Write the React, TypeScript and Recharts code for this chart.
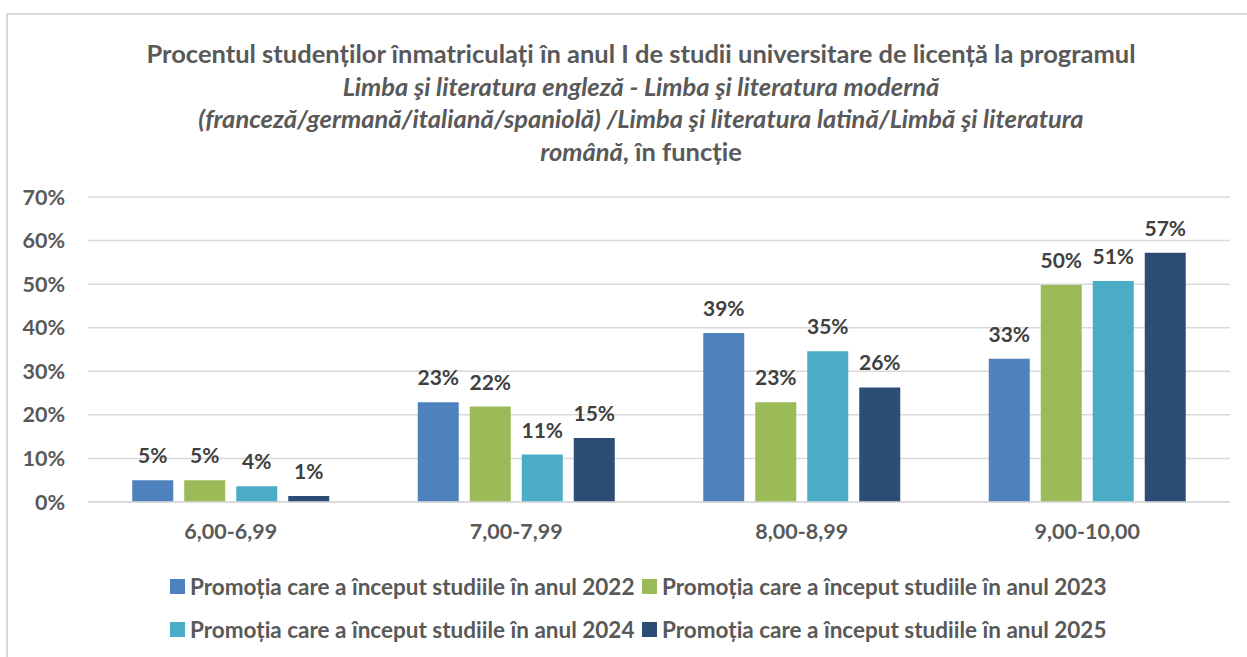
import React from 'react';
import { BarChart, Bar, XAxis, YAxis, CartesianGrid, LabelList, Legend } from 'recharts';

const categories = ['6,00-6,99', '7,00-7,99', '8,00-8,99', '9,00-10,00'];
const promo2022 = [5.0, 22.9, 38.8, 32.9];
const promo2023 = [5.0, 21.9, 22.9, 49.8];
const promo2024 = [3.6, 10.9, 34.6, 50.7];
const promo2025 = [1.4, 14.7, 26.3, 57.2];
const yTicks = [0, 10, 20, 30, 40, 50, 60, 70];

const series = [
  { key: 'p2022', name: 'Promoția care a început studiile în anul 2022', color: '#4f81bd', values: promo2022 },
  { key: 'p2023', name: 'Promoția care a început studiile în anul 2023', color: '#9bbb59', values: promo2023 },
  { key: 'p2024', name: 'Promoția care a început studiile în anul 2024', color: '#4bacc6', values: promo2024 },
  { key: 'p2025', name: 'Promoția care a început studiile în anul 2025', color: '#2c4d75', values: promo2025 },
];

const data = categories.map((cat, i) => {
  const row: Record<string, string | number> = { cat };
  series.forEach((s) => {
    row[s.key] = s.values[i];
  });
  return row;
});

const FONT = 'Lato, "Open Sans", sans-serif';
const GRAY = '#595959';

const LegendContent = (props: any) => {
  const payload = props.payload || [];
  return (
    <div
      style={{
        display: 'flex',
        flexWrap: 'wrap',
        width: 960,
        marginLeft: 170,
        rowGap: 16,
        fontFamily: FONT,
        fontWeight: 700,
        fontSize: 22.5,
        color: GRAY,
      }}
    >
      {payload.map((p: any) => (
        <div key={p.value} style={{ display: 'flex', alignItems: 'center', width: 472, height: 27, whiteSpace: 'nowrap' }}>
          <span style={{ width: 15, height: 15, background: p.color, marginRight: 5, display: 'inline-block', flex: 'none' }} />
          <span>{p.value}</span>
        </div>
      ))}
    </div>
  );
};

export default function App() {
  return (
    <div style={{ position: 'relative', width: 1247, height: 657, overflow: 'hidden', background: '#fff' }}>
      <style>{`body{margin:0;overflow:hidden}`}</style>
      <div
        style={{
          position: 'absolute',
          left: 6,
          top: 13,
          width: 1300,
          height: 700,
          borderTop: '2px solid #d9d9d9',
          borderLeft: '2px solid #d9d9d9',
        }}
      />
      <div
        style={{
          position: 'absolute',
          left: 7,
          top: 37,
          width: 1268,
          textAlign: 'center',
          fontFamily: FONT,
          fontWeight: 700,
          fontSize: 25.5,
          lineHeight: '32.5px',
          color: GRAY,
          whiteSpace: 'nowrap',
        }}
      >
        <div>Procentul studenților înmatriculați în anul I de studii universitare de licență la programul</div>
        <div style={{ fontStyle: 'italic' }}>Limba şi literatura engleză - Limba şi literatura modernă</div>
        <div style={{ fontStyle: 'italic' }}>
          (franceză/germană/italiană/spaniolă) /Limba şi literatura latină/Limbă şi literatura
        </div>
        <div>
          <span style={{ fontStyle: 'italic' }}>română</span>, în funcție
        </div>
      </div>
      <div style={{ position: 'absolute', left: 0, top: 0 }}>
        <BarChart
          width={1247}
          height={657}
          data={data}
          margin={{ top: 197, right: 17, left: 0, bottom: 97 }}
          barCategoryGap="15.5%"
          barGap={11}
        >
          <CartesianGrid vertical={false} stroke="#d9d9d9" strokeWidth={1.5} />
          <XAxis
            dataKey="cat"
            height={58}
            tickLine={false}
            axisLine={{ stroke: '#d9d9d9', strokeWidth: 1.5 }}
            tick={{ fill: GRAY, fontFamily: FONT, fontWeight: 700, fontSize: 21.5 }}
            tickMargin={16}
          />
          <YAxis
            width={88}
            domain={[0, 70]}
            ticks={yTicks}
            tickFormatter={(v: number) => `${v}%`}
            tickLine={false}
            axisLine={false}
            tickMargin={17}
            tick={{ fill: GRAY, fontFamily: FONT, fontWeight: 700, fontSize: 21.5 }}
          />
          {series.map((s) => (
            <Bar key={s.key} dataKey={s.key} name={s.name} fill={s.color} isAnimationActive={false}>
              <LabelList
                dataKey={s.key}
                position="top"
                offset={17}
                formatter={(v: any) => `${Math.round(Number(v))}%`}
                style={{ fill: '#404040', fontFamily: FONT, fontWeight: 700, fontSize: 21 }}
              />
            </Bar>
          ))}
          <Legend
            layout="horizontal"
            verticalAlign="middle"
            align="center"
            content={<LegendContent />}
            wrapperStyle={{ position: 'absolute', top: 573, left: 0, width: 1247 }}
          />
        </BarChart>
      </div>
    </div>
  );
}
